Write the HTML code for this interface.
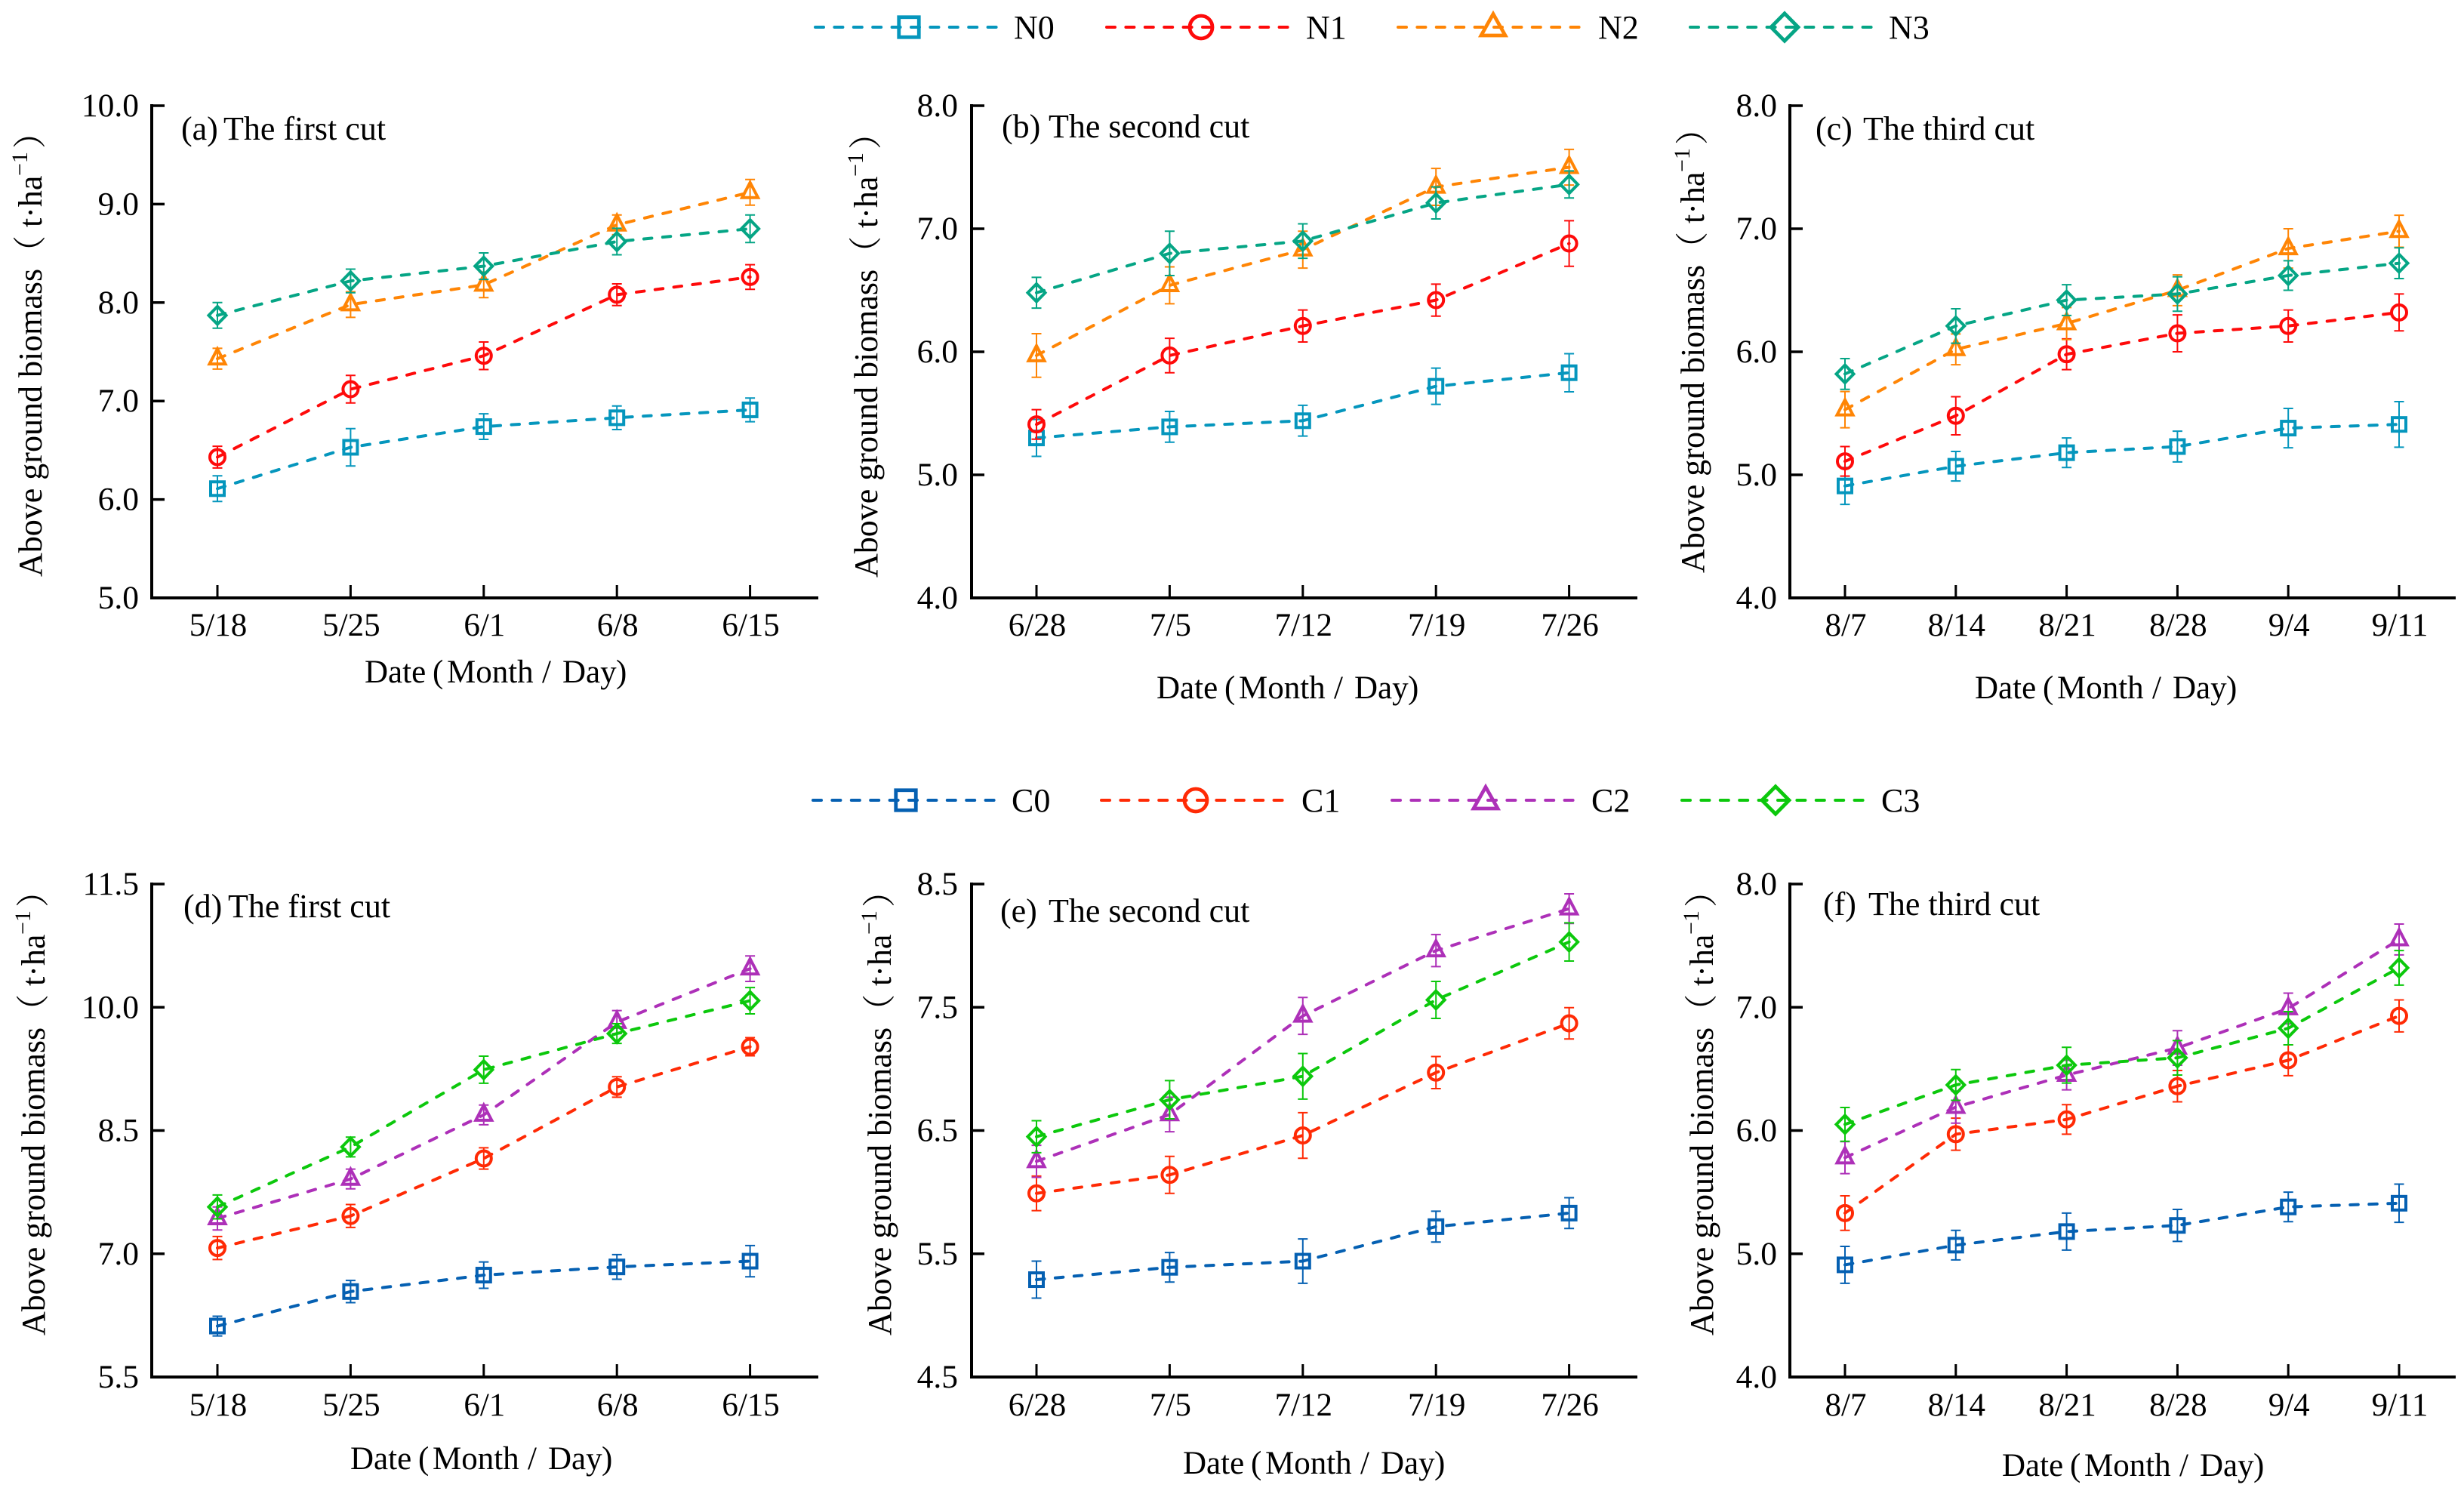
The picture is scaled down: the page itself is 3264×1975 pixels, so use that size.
<!DOCTYPE html>
<html lang="en">
<head>
<meta charset="utf-8">
<title>Above ground biomass by date</title>
<style>
  html, body { margin: 0; padding: 0; background: #fff; }
  svg { display: block; }
  text { font-family: "Liberation Serif", "Noto Serif CJK SC", serif; fill: #000; }
</style>
</head>
<body>
<svg id="chart" xmlns="http://www.w3.org/2000/svg" width="3264" height="1975" viewBox="0 0 3264 1975">
  <rect x="0" y="0" width="3264" height="1975" fill="#ffffff"/>
</svg>
<script>
// ---------- categories ----------
const datesFirstCut = ['5/18', '5/25', '6/1', '6/8', '6/15'];
const datesSecondCut = ['6/28', '7/5', '7/12', '7/19', '7/26'];
const datesThirdCut = ['8/7', '8/14', '8/21', '8/28', '9/4', '9/11'];

// ---------- y tick labels ----------
const yTicksA = [5, 6, 7, 8, 9, 10];
const yTicksB = [4, 5, 6, 7, 8];
const yTicksC = [4, 5, 6, 7, 8];
const yTicksD = [5.5, 7, 8.5, 10, 11.5];
const yTicksE = [4.5, 5.5, 6.5, 7.5, 8.5];
const yTicksF = [4, 5, 6, 7, 8];

// ---------- panel (a) ----------
const aN0 = [6.11, 6.53, 6.74, 6.83, 6.91];
const aN0Err = [0.13, 0.19, 0.13, 0.12, 0.12];
const aN1 = [6.43, 7.12, 7.46, 8.08, 8.26];
const aN1Err = [0.11, 0.14, 0.14, 0.11, 0.125];
const aN2 = [7.43, 7.98, 8.18, 8.79, 9.12];
const aN2Err = [0.105, 0.13, 0.13, 0.1, 0.13];
const aN3 = [7.87, 8.22, 8.37, 8.62, 8.75];
const aN3Err = [0.13, 0.12, 0.135, 0.135, 0.14];

// ---------- panel (b) ----------
const bN0 = [5.30, 5.39, 5.44, 5.72, 5.83];
const bN0Err = [0.15, 0.125, 0.125, 0.147, 0.155];
const bN1 = [5.41, 5.97, 6.21, 6.42, 6.88];
const bN1Err = [0.12, 0.14, 0.13, 0.13, 0.185];
const bN2 = [5.97, 6.54, 6.83, 7.34, 7.50];
const bN2Err = [0.177, 0.15, 0.15, 0.15, 0.145];
const bN3 = [6.48, 6.80, 6.90, 7.21, 7.36];
const bN3Err = [0.125, 0.18, 0.14, 0.13, 0.11];

// ---------- panel (c) ----------
const cN0 = [4.91, 5.07, 5.18, 5.23, 5.38, 5.41];
const cN0Err = [0.15, 0.12, 0.12, 0.125, 0.16, 0.185];
const cN1 = [5.11, 5.48, 5.98, 6.15, 6.21, 6.32];
const cN1Err = [0.12, 0.155, 0.125, 0.15, 0.13, 0.15];
const cN2 = [5.53, 6.02, 6.23, 6.50, 6.84, 6.98];
const cN2Err = [0.147, 0.125, 0.13, 0.125, 0.16, 0.13];
const cN3 = [5.82, 6.21, 6.42, 6.47, 6.62, 6.72];
const cN3Err = [0.125, 0.14, 0.125, 0.14, 0.12, 0.125];

// ---------- panel (d) ----------
const dC0 = [6.12, 6.54, 6.74, 6.84, 6.91];
const dC0Err = [0.12, 0.135, 0.16, 0.15, 0.19];
const dC1 = [7.07, 7.46, 8.16, 9.03, 9.52];
const dC1Err = [0.14, 0.14, 0.13, 0.125, 0.11];
const dC2 = [7.43, 7.91, 8.69, 9.82, 10.47];
const dC2Err = [0.14, 0.12, 0.12, 0.14, 0.155];
const dC3 = [7.57, 8.30, 9.24, 9.68, 10.08];
const dC3Err = [0.145, 0.12, 0.165, 0.12, 0.16];

// ---------- panel (e) ----------
const eC0 = [5.29, 5.39, 5.44, 5.72, 5.83];
const eC0Err = [0.15, 0.12, 0.18, 0.125, 0.125];
const eC1 = [5.99, 6.14, 6.46, 6.97, 7.37];
const eC1Err = [0.14, 0.15, 0.185, 0.13, 0.127];
const eC2 = [6.25, 6.63, 7.43, 7.96, 8.30];
const eC2Err = [0.13, 0.14, 0.15, 0.13, 0.12];
const eC3 = [6.45, 6.75, 6.94, 7.56, 8.03];
const eC3Err = [0.13, 0.155, 0.185, 0.15, 0.155];

// ---------- panel (f) ----------
const fC0 = [4.91, 5.07, 5.18, 5.23, 5.38, 5.41];
const fC0Err = [0.15, 0.12, 0.15, 0.13, 0.12, 0.155];
const fC1 = [5.33, 5.97, 6.09, 6.36, 6.57, 6.93];
const fC1Err = [0.14, 0.13, 0.12, 0.127, 0.125, 0.13];
const fC2 = [5.78, 6.19, 6.45, 6.67, 6.99, 7.55];
const fC2Err = [0.13, 0.13, 0.12, 0.14, 0.125, 0.125];
const fC3 = [6.05, 6.37, 6.53, 6.59, 6.83, 7.32];
const fC3Err = [0.137, 0.125, 0.145, 0.14, 0.135, 0.14];

// ---------- series styles ----------
const nStyles = [
  { name: 'N0', color: '#0596bd', marker: 'square' },
  { name: 'N1', color: '#fe0a0a', marker: 'circle' },
  { name: 'N2', color: '#ff8505', marker: 'triangle' },
  { name: 'N3', color: '#05a585', marker: 'diamond' }
];
const cStyles = [
  { name: 'C0', color: '#0560b2', marker: 'square' },
  { name: 'C1', color: '#ff2a05', marker: 'circle' },
  { name: 'C2', color: '#ad30b8', marker: 'triangle' },
  { name: 'C3', color: '#0cc80c', marker: 'diamond' }
];

// ---------- marker geometry ----------
const plotMarker = { sw: 4, square: 18, radius: 10, triHalf: 10.5, triTop: 13, triBase: 7, diaW: 11.5, diaH: 11.8 };
const legendMarker = { sw: 4.8, square: 26.5, radius: 15, triHalf: 16, triTop: 17.5, triBase: 11, diaW: 18, diaH: 18.2 };

// ---------- layout ----------
const panels = [
  { id: 'a', tag: '(a)', title: 'The first cut', tagX: 240, titleX: 296, titleY: 185,
    axisX: 201, rightX: 1084, topY: 140, bottomY: 792, firstX: 288, stepX: 176.4,
    dates: datesFirstCut, ticks: yTicksA, styles: nStyles,
    values: [aN0, aN1, aN2, aN3], errors: [aN0Err, aN1Err, aN2Err, aN3Err],
    tickRight: 184, xLabelY: 842, xTitleX: 483, xTitleY: 904, yTitleX: 55, yTitleStart: 764 },
  { id: 'b', tag: '(b)', title: 'The second cut', tagX: 1327, titleX: 1389, titleY: 182,
    axisX: 1287, rightX: 2169, topY: 140, bottomY: 792, firstX: 1373, stepX: 176.4,
    dates: datesSecondCut, ticks: yTicksB, styles: nStyles,
    values: [bN0, bN1, bN2, bN3], errors: [bN0Err, bN1Err, bN2Err, bN3Err],
    tickRight: 1269, xLabelY: 842, xTitleX: 1532, xTitleY: 925, yTitleX: 1162, yTitleStart: 765 },
  { id: 'c', tag: '(c)', title: 'The third cut', tagX: 2405, titleX: 2468, titleY: 185,
    axisX: 2371, rightX: 3253, topY: 140, bottomY: 792, firstX: 2444, stepX: 146.8,
    dates: datesThirdCut, ticks: yTicksC, styles: nStyles,
    values: [cN0, cN1, cN2, cN3], errors: [cN0Err, cN1Err, cN2Err, cN3Err],
    tickRight: 2354, xLabelY: 842, xTitleX: 2616, xTitleY: 925, yTitleX: 2257, yTitleStart: 759 },
  { id: 'd', tag: '(d)', title: 'The first cut', tagX: 243, titleX: 302, titleY: 1215,
    axisX: 201, rightX: 1084, topY: 1171, bottomY: 1824, firstX: 288, stepX: 176.4,
    dates: datesFirstCut, ticks: yTicksD, styles: cStyles,
    values: [dC0, dC1, dC2, dC3], errors: [dC0Err, dC1Err, dC2Err, dC3Err],
    tickRight: 184, xLabelY: 1875, xTitleX: 464, xTitleY: 1946, yTitleX: 59, yTitleStart: 1769 },
  { id: 'e', tag: '(e)', title: 'The second cut', tagX: 1325, titleX: 1389, titleY: 1221,
    axisX: 1287, rightX: 2169, topY: 1171, bottomY: 1824, firstX: 1373, stepX: 176.4,
    dates: datesSecondCut, ticks: yTicksE, styles: cStyles,
    values: [eC0, eC1, eC2, eC3], errors: [eC0Err, eC1Err, eC2Err, eC3Err],
    tickRight: 1269, xLabelY: 1875, xTitleX: 1567, xTitleY: 1952, yTitleX: 1180, yTitleStart: 1769 },
  { id: 'f', tag: '(f)', title: 'The third cut', tagX: 2415, titleX: 2475, titleY: 1212,
    axisX: 2371, rightX: 3253, topY: 1171, bottomY: 1824, firstX: 2444, stepX: 146.8,
    dates: datesThirdCut, ticks: yTicksF, styles: cStyles,
    values: [fC0, fC1, fC2, fC3], errors: [fC0Err, fC1Err, fC2Err, fC3Err],
    tickRight: 2354, xLabelY: 1875, xTitleX: 2652, xTitleY: 1955, yTitleX: 2269, yTitleStart: 1769 }
];

const legends = [
  { y: 36, styles: nStyles, items: [
    { lineFrom: 1078, lineTo: 1323, markerX: 1204, textX: 1343 },
    { lineFrom: 1464, lineTo: 1710, markerX: 1591, textX: 1730 },
    { lineFrom: 1850, lineTo: 2096, markerX: 1978, textX: 2117 },
    { lineFrom: 2237, lineTo: 2482, markerX: 2364, textX: 2502 }
  ] },
  { y: 1060, styles: cStyles, items: [
    { lineFrom: 1075, lineTo: 1318, markerX: 1200, textX: 1340 },
    { lineFrom: 1457, lineTo: 1703, markerX: 1584, textX: 1724 },
    { lineFrom: 1842, lineTo: 2087, markerX: 1968, textX: 2108 },
    { lineFrom: 2226, lineTo: 2471, markerX: 2352, textX: 2492 }
  ] }
];

const SVG_NS = 'http://www.w3.org/2000/svg';
const root = document.getElementById('chart');

function make(tag, attrs, parent) {
  const node = document.createElementNS(SVG_NS, tag);
  for (const key in attrs) node.setAttribute(key, attrs[key]);
  parent.appendChild(node);
  return node;
}

function xScale(panel, index) {
  return panel.firstX + index * panel.stepX;
}

function yScale(panel, value) {
  const lo = panel.ticks[0];
  const hi = panel.ticks[panel.ticks.length - 1];
  return panel.bottomY - (value - lo) / (hi - lo) * (panel.bottomY - panel.topY);
}

function drawMarker(kind, cx, cy, color, g, parent, label) {
  let mark;
  if (kind === 'square') {
    mark = make('rect', { x: cx - g.square / 2, y: cy - g.square / 2, width: g.square, height: g.square }, parent);
  } else if (kind === 'circle') {
    mark = make('circle', { cx: cx, cy: cy, r: g.radius }, parent);
  } else if (kind === 'triangle') {
    const tri = [[cx, cy - g.triTop], [cx + g.triHalf, cy + g.triBase], [cx - g.triHalf, cy + g.triBase]];
    mark = make('polygon', { points: tri.map(p => p.join(',')).join(' ') }, parent);
  } else {
    const dia = [[cx, cy - g.diaH], [cx + g.diaW, cy], [cx, cy + g.diaH], [cx - g.diaW, cy]];
    mark = make('polygon', { points: dia.map(p => p.join(',')).join(' ') }, parent);
  }
  mark.setAttribute('fill', 'none');
  mark.setAttribute('stroke', color);
  mark.setAttribute('stroke-width', g.sw);
  mark.setAttribute('stroke-linejoin', 'miter');
  mark.setAttribute('stroke-miterlimit', 8);
  
  
  return mark;
}

function drawAxes(panel, group) {
  const yAxis = make('line', { x1: panel.axisX, x2: panel.axisX, y1: panel.topY - 2, y2: panel.bottomY + 2, stroke: '#000', 'stroke-width': 4 }, group);
  
  

  const xAxis = make('line', { x1: panel.axisX - 2, x2: panel.rightX, y1: panel.bottomY, y2: panel.bottomY, stroke: '#000', 'stroke-width': 4 }, group);
  
  

  panel.ticks.forEach(function (value) {
    const y = yScale(panel, value);
    const tick = make('line', { x1: panel.axisX, x2: panel.axisX + 17, y1: y, y2: y, stroke: '#000', 'stroke-width': 3.5 }, group);
    
    

    const label = make('text', { x: panel.tickRight, y: y + 14, 'text-anchor': 'end', 'font-size': 43.5 }, group);
    label.textContent = value.toFixed(1);
    
    
  });

  panel.dates.forEach(function (date, i) {
    const x = xScale(panel, i);
    const tick = make('line', { x1: x, x2: x, y1: panel.bottomY, y2: panel.bottomY - 17, stroke: '#000', 'stroke-width': 3 }, group);
    
    

    const label = make('text', { x: x + 1, y: panel.xLabelY, 'text-anchor': 'middle', 'font-size': 43 }, group);
    label.textContent = date;
    
    
  });

  const xTitle = make('text', { y: panel.xTitleY, 'font-size': 43 }, group);
  
  
  const xPart1 = make('tspan', { x: panel.xTitleX }, xTitle);
  xPart1.textContent = 'Date ';
  const xPart2 = make('tspan', { x: panel.xTitleX + 90 }, xTitle);
  xPart2.textContent = '(';
  const xPart3 = make('tspan', { x: panel.xTitleX + 109 }, xTitle);
  xPart3.textContent = 'Month ';
  const xPart4 = make('tspan', { x: panel.xTitleX + 235 }, xTitle);
  xPart4.textContent = '/ ';
  const xPart5 = make('tspan', { x: panel.xTitleX + 262 }, xTitle);
  xPart5.textContent = 'Day';
  const xPart6 = make('tspan', { x: panel.xTitleX + 333 }, xTitle);
  xPart6.textContent = ')';

  const yTitle = make('text', { transform: 'translate(' + panel.yTitleX + ',' + panel.yTitleStart + ') rotate(-90)', 'font-size': 44 }, group);
  
  
  const part1 = make('tspan', { x: 0, y: 0 }, yTitle);
  part1.textContent = 'Above ground biomass\uFF08';
  const part2 = make('tspan', { x: 463, y: 0 }, yTitle);
  part2.textContent = 't\u00B7ha';
  const part3 = make('tspan', { x: 531, y: -19, 'font-size': 30 }, yTitle);
  part3.textContent = '\u22121';
  const part4 = make('tspan', { x: 567, y: 0 }, yTitle);
  part4.textContent = '\uFF09';

  const title = make('text', { y: panel.titleY, 'font-size': 44 }, group);
  
  
  const tagSpan = make('tspan', { x: panel.tagX }, title);
  tagSpan.textContent = panel.tag;
  const nameSpan = make('tspan', { x: panel.titleX }, title);
  nameSpan.textContent = panel.title;
}

function drawSeries(panel, seriesIndex, group) {
  const style = panel.styles[seriesIndex];
  const values = panel.values[seriesIndex];
  const errors = panel.errors[seriesIndex];

  const seriesGroup = make('g', {}, group);
  
  

  values.forEach(function (value, i) {
    const x = xScale(panel, i);
    const top = yScale(panel, value + errors[i]);
    const bottom = yScale(panel, value - errors[i]);
    const d = 'M' + x + ' ' + top + 'V' + bottom + 'M' + (x - 6.5) + ' ' + top + 'H' + (x + 6.5) + 'M' + (x - 6.5) + ' ' + bottom + 'H' + (x + 6.5);
    const bar = make('path', { d: d, fill: 'none', stroke: style.color, 'stroke-width': 2 }, seriesGroup);
    
    
  });

  const pts = values.map(function (value, i) {
    return xScale(panel, i) + ',' + yScale(panel, value);
  }).join(' ');
  const line = make('polyline', { points: pts, fill: 'none', stroke: style.color, 'stroke-width': 4, 'stroke-dasharray': '10.5 14.5', 'stroke-linecap': 'round' }, seriesGroup);
  
  

  values.forEach(function (value, i) {
    drawMarker(style.marker, xScale(panel, i), yScale(panel, value), style.color, plotMarker, seriesGroup, 'data-point');
  });
}

panels.forEach(function (panel) {
  const group = make('g', {}, root);
  
  
  for (let s = 0; s < panel.values.length; s++) drawSeries(panel, s, group);
  drawAxes(panel, group);
});

legends.forEach(function (legend) {
  const group = make('g', {}, root);
  
  
  legend.items.forEach(function (item, i) {
    const style = legend.styles[i];
    const entry = make('g', {}, group);
    
    

    const sample = make('line', { x1: item.lineFrom + 2, x2: item.lineTo, y1: legend.y, y2: legend.y, stroke: style.color, 'stroke-width': 4, 'stroke-dasharray': '11 14.4', 'stroke-linecap': 'round' }, entry);
    
    

    drawMarker(style.marker, item.markerX, legend.y, style.color, legendMarker, entry, 'legend-marker');

    const label = make('text', { x: item.textX, y: legend.y + 15, 'font-size': 44 }, entry);
    label.textContent = style.name;
    
    
  });
});
</script>
</body>
</html>
